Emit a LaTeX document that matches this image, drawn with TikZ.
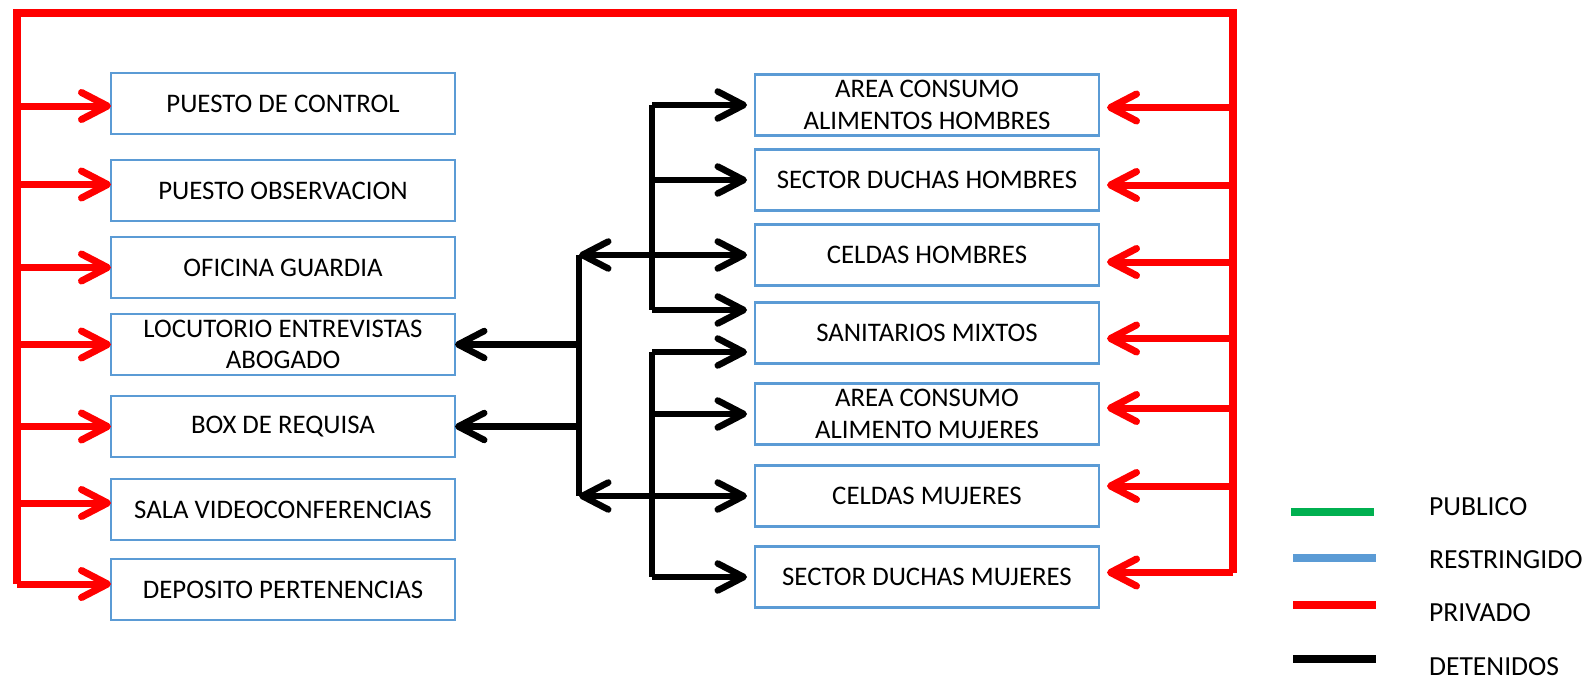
\documentclass[tikz,border=0pt]{standalone}
\usepackage{fontspec}
\setmainfont{Carlito}
\usepackage{tikz}
\usetikzlibrary{positioning}
\usetikzlibrary{arrows.meta}
\definecolor{azulzona}{HTML}{5B9BD5}
\definecolor{verdeley}{HTML}{00B050}
\tikzset{zona/.style={ % caja de cada recinto
           draw=azulzona, line width=1.1pt, outer sep=0pt,
           minimum width=172pt, minimum height=30.5pt,
           inner ysep=1pt, align=center,
           font=\fontsize{13.4}{15.8}\selectfont},
         >={Straight Barb[round, length=13pt, width=13.5pt]}, % flechas abiertas
         privado/.style={draw=red, line width=3.5pt},
         detenido/.style={draw=black, line width=3.25pt},
         leyenda/.style={anchor=west, font=\fontsize{13.8}{16}\selectfont}}

\begin{document}
\begin{tikzpicture}[x=0.5pt, y=-0.5pt]
      \useasboundingbox (0,0) rectangle (1592,685);

      % columna izquierda
      \node[zona] (pc) at (283,103.5) {PUESTO DE CONTROL};
      \node[zona, below=13pt of pc] (po) {PUESTO OBSERVACION};
      \node[zona, below=8pt of po] (og) {OFICINA GUARDIA};
      \node[zona, below=8pt of og] (le) {LOCUTORIO ENTREVISTAS\\ABOGADO};
      \node[zona, below=10.5pt of le] (br) {BOX DE REQUISA};
      \node[zona, below=11pt of br] (sv) {SALA VIDEOCONFERENCIAS};
      \node[zona, below=9.5pt of sv] (dp) {DEPOSITO PERTENENCIAS};

      % columna derecha
      \node[zona] (ac) at (927,105) {AREA CONSUMO\\ALIMENTOS HOMBRES};
      \node[zona, below=7pt of ac] (sh) {SECTOR DUCHAS HOMBRES};
      \node[zona, below=7pt of sh] (ch) {CELDAS HOMBRES};
      \node[zona, below=8.5pt of ch] (sm) {SANITARIOS MIXTOS};
      \node[zona, below=10pt of sm] (am) {AREA CONSUMO\\ALIMENTO MUJERES};
      \node[zona, below=10.5pt of am] (cm) {CELDAS MUJERES};
      \node[zona, below=10pt of cm] (sd) {SECTOR DUCHAS MUJERES};

      % circuito privado
      \coordinate (rTL) at (17,13);
      \coordinate (rTR) at (1233,13);
      \coordinate (rBL) at ([yshift=2.75pt]rTL |- dp.west);
      \coordinate (rBR) at ([yshift=2.25pt]rTR |- sd.east);
      \draw[privado, line width=3.75pt] (rBL) -- (rTL) -- (rTR) -- (rBR);

      \draw[privado, ->] ([yshift=-1.25pt]rTL |- pc.west) -- ([yshift=-1.25pt]pc.west);
      \draw[privado, ->] ([yshift=3pt]rTL |- po.west) -- ([yshift=3pt]po.west);
      \draw[privado, ->] (rTL |- og.west) -- (og.west);
      \draw[privado, ->] (rTL |- le.west) -- (le.west);
      \draw[privado, ->] (rTL |- br.west) -- (br.west);
      \draw[privado, ->] ([yshift=3.25pt]rTL |- sv.west) -- ([yshift=3.25pt]sv.west);
      \draw[privado, ->] (rBL) -- ([yshift=2.75pt]dp.west);

      \draw[privado, ->] ([yshift=-1.25pt]rTR |- ac.east) -- ([xshift=4pt,yshift=-1.25pt]ac.east);
      \draw[privado, ->] ([yshift=-2.5pt]rTR |- sh.east) -- ([xshift=4pt,yshift=-2.5pt]sh.east);
      \draw[privado, ->] ([yshift=-3.5pt]rTR |- ch.east) -- ([xshift=4pt,yshift=-3.5pt]ch.east);
      \draw[privado, ->] ([yshift=-2.75pt]rTR |- sm.east) -- ([xshift=4pt,yshift=-2.75pt]sm.east);
      \draw[privado, ->] ([yshift=3pt]rTR |- am.east) -- ([xshift=4pt,yshift=3pt]am.east);
      \draw[privado, ->] ([yshift=5pt]rTR |- cm.east) -- ([xshift=4pt,yshift=5pt]cm.east);
      \draw[privado, ->] (rBR) -- ([xshift=4pt,yshift=2.25pt]sd.east);

      % circuito detenidos
      \coordinate (tA) at (579,0);
      \coordinate (tB) at (652,0);
      \coordinate (smU) at ([yshift=11.5pt]sm.west);
      \coordinate (smD) at ([yshift=-9.5pt]sm.west);

      \draw[detenido] (tA |- ch.west) -- (tA |- cm.west);
      \draw[detenido, <->] (tA |- ch.west) -- ([xshift=-4pt]ch.west);
      \draw[detenido, <->] (tA |- cm.west) -- ([xshift=-4pt]cm.west);
      \draw[detenido, ->] (tA |- le.east) -- (le.east);
      \draw[detenido, ->] (tA |- br.east) -- (br.east);

      \draw[detenido] (tB |- ac.west) -- (tB |- smU);
      \draw[detenido, ->] (tB |- ac.west) -- ([xshift=-4pt]ac.west);
      \draw[detenido, ->] (tB |- sh.west) -- ([xshift=-4pt]sh.west);
      \draw[detenido, ->] (tB |- smU) -- ([xshift=-4pt]smU);

      \draw[detenido] (tB |- smD) -- (tB |- sd.west);
      \draw[detenido, ->] (tB |- smD) -- ([xshift=-4pt]smD);
      \draw[detenido, ->] (tB |- am.west) -- ([xshift=-4pt]am.west);
      \draw[detenido, ->] (tB |- sd.west) -- ([xshift=-4pt]sd.west);

      % leyenda
      \node[leyenda] (lpub) at (1422,507) {PUBLICO};
      \node[leyenda] (lres) at (1422,560) {RESTRINGIDO};
      \node[leyenda] (lpri) at (1422,613) {PRIVADO};
      \node[leyenda] (ldet) at (1422,667) {DETENIDOS};
      \draw[verdeley, line width=4pt] (1291,512) -- (1374,512);
      \draw[azulzona, line width=4pt] (1293,558) -- (1376,558);
      \draw[red, line width=4pt] (1293,605) -- (1376,605);
      \draw[black, line width=4pt] (1293,659) -- (1376,659);

\end{tikzpicture}
\end{document}
